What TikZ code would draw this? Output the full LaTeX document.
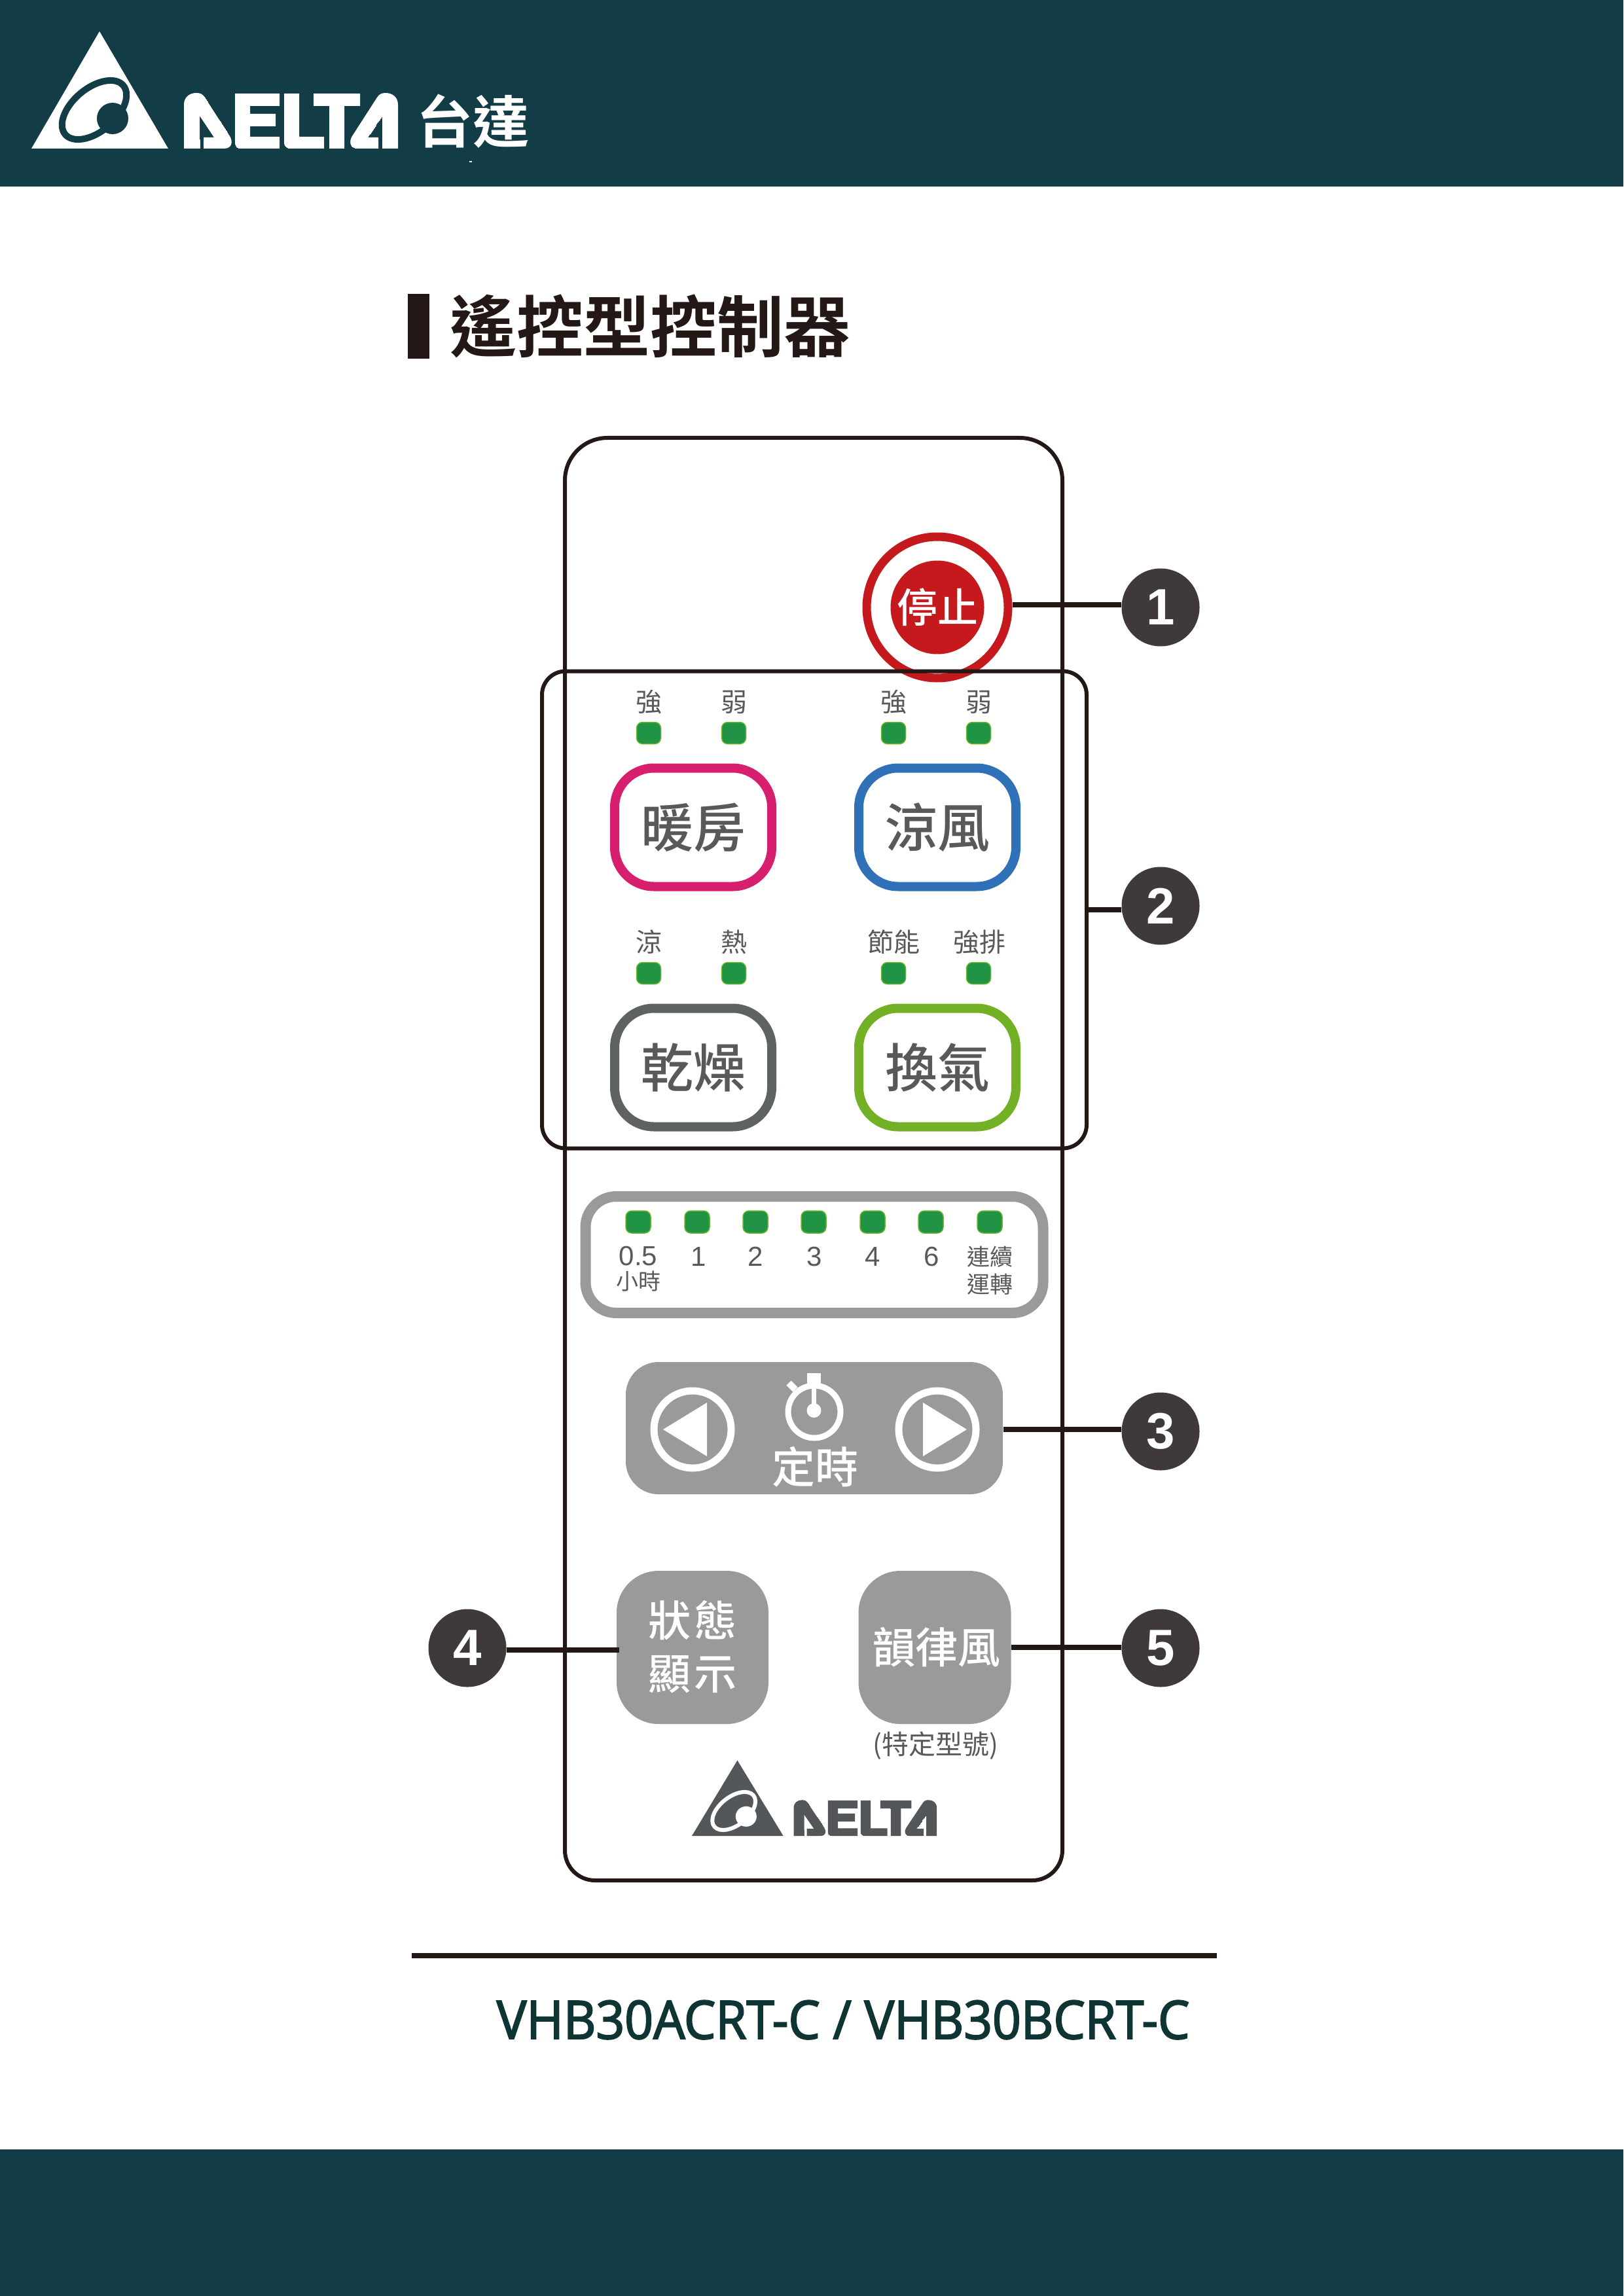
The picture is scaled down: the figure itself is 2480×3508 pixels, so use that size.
\documentclass[tikz,border=0pt]{standalone}
\usepackage{fontspec}
\setmainfont{Liberation Sans}
\newfontfamily\cjk{Noto Sans CJK TC}
\newfontfamily\cjkm{Noto Sans CJK TC Medium}
\newfontfamily\cjkb{Noto Sans CJK TC Bold}
\newfontfamily\modelfont{Open Sans}[FakeStretch=0.945,FakeBold=2.5]
\newdimen\pxu \pxu=0.24pt
\newcommand\fs[1]{\pgfmathsetmacro\fsv{#1*0.24}\fontsize{\fsv pt}{\fsv pt}\selectfont}
\definecolor{teal}{HTML}{123C46}
\definecolor{ink}{HTML}{231815}
\definecolor{badge}{HTML}{40393A}
\definecolor{panelgrey}{HTML}{9B9A9B}
\definecolor{labelgrey}{HTML}{58595B}
\definecolor{ledfill}{HTML}{219345}
\definecolor{ledrim}{HTML}{6AB42E}
\definecolor{stopred}{HTML}{C5191D}
\definecolor{modelink}{HTML}{0F3434}
\definecolor{logogrey}{HTML}{54575A}
\tikzset{
  led/.style={rectangle,rounded corners=9*\pxu,fill=ledfill,draw=ledrim,line width=1.5*\pxu,minimum width=37*\pxu,minimum height=33*\pxu,inner sep=0pt},
  ledlabel/.style={inner sep=0pt,text=labelgrey,font=\cjk\fs{40}},
  modebtn/.style={rectangle,rounded corners=60*\pxu,line width=14*\pxu,minimum width=240*\pxu,minimum height=181*\pxu,inner sep=0pt},
  modetext/.style={inner sep=0pt,text=labelgrey,font=\cjkm\fs{80}},
  greybtn/.style={rectangle,rounded corners=64*\pxu,fill=panelgrey,inner sep=0pt},
  whitetext/.style={inner sep=0pt,text=white,font=\cjkm\fs{65}},
  callout/.style={circle,fill=badge,text=white,minimum size=119*\pxu,inner sep=0pt,font=\bfseries\fs{78}},
  conn/.style={draw=ink,line width=7.5*\pxu},
  frameline/.style={draw=ink,line width=6*\pxu},
  timerlabel/.style={inner sep=0pt,text=labelgrey,font=\fs{42}},
  timercjk/.style={inner sep=0pt,text=labelgrey,font=\cjk\fs{35}},
  ringbtn/.style={circle,draw=white,line width=11*\pxu,minimum size=118*\pxu,inner sep=0pt},
}
\def\logoword{
  (281,227) -- (281,160) .. controls (281,148) and (290,142) .. (300,142) .. controls (306,142) and (310,144) .. (313,149) -- (351,208) .. controls (356,216) and (355,227) .. (342,227) -- (311,227) -- (311,210) -- (327,210) -- (305,177) -- (305,227) -- cycle
  (359,143) -- (427,143) -- (427,162) -- (382,162) -- (382,174) -- (421,174) -- (421,193) -- (382,193) -- (382,209) -- (427,209) -- (427,227) -- (368,227) .. controls (362,227) and (359,223) .. (359,218) -- cycle
  (434,143) -- (457,143) -- (457,209) -- (495,209) -- (495,227) -- (444,227) .. controls (438,227) and (434,223) .. (434,218) -- cycle
  (479,143) -- (550,143) -- (550,162) -- (526,162) -- (526,227) -- (503,227) -- (503,162) -- (479,162) -- cycle
  (608,227) -- (608,160) .. controls (608,148) and (599,142) .. (589,142) .. controls (583,142) and (579,144) .. (576,149) -- (538,208) .. controls (533,216) and (534,227) .. (547,227) -- (578,227) -- (578,210) -- (562,210) -- (584,177) -- (584,227) -- cycle
}
\newcommand\deltamark[3]{%
  \fill[#1] (152,48) -- (48,227) -- (257,227) -- cycle;
  \draw[#2,line width=#3*\pxu,rotate around={40:(144,168)}] (144,168) ellipse (58 and 33);
  \fill[#2] (172,181) circle (24);
  \fill[#1] \logoword;
  \begin{scope}
    \clip \logoword;
    \node[inner sep=0pt,text=#1] at (444,185) {\resizebox{78.2pt}{20.4pt}{\bfseries DELTA}};
  \end{scope}
}
\begin{document}
\begin{tikzpicture}[x=0.24pt,y=-0.24pt]
\useasboundingbox (0,0) rectangle (2480,3508);
\fill[white] (0,0) rectangle (2480,3508);
% bands
\fill[teal] (0,0) rectangle (2480,285);
\fill[teal] (0,3284) rectangle (2480,3508);
\deltamark{white}{teal}{10}
\node[inner sep=0pt,text=white,font=\cjkb\fs{86}] (brand) at (722,185) {台達};
\fill[white] (717,246) rectangle (721,248);
% title
\fill[ink] (623,449) rectangle (656,548);
\node[inner sep=0pt,text=ink,font=\cjkb\fs{102}] (title) at (993,498) {遙控型控制器};
% remote body
\draw[frameline] (863,1400) [rounded corners=65*\pxu] -- (863,669) -- (1623,669) -- (1623,1400) [rounded corners=46*\pxu] -- (1623,2873) -- (863,2873) -- cycle;
% stop
\node[circle,draw=stopred,line width=13*\pxu,minimum size=216*\pxu,inner sep=0pt] (stopring) at (1432,928) {};
\node[circle,fill=stopred,minimum size=143*\pxu,inner sep=0pt,text=white,font=\cjkm\fs{62}] (stopbtn) at (1432,928) {停止};
% group frame
\node[rectangle,frameline,rounded corners=36*\pxu,minimum width=832*\pxu,minimum height=729*\pxu,inner sep=0pt] (group) at (1244,1390) {};
% LEDs of the mode keys
\foreach \n/\x/\y in {a/991/1120,b/1121/1120,c/1365/1120,d/1495/1120,e/991/1487,f/1121/1487,g/1365/1487,h/1495/1487}
  \node[led] (led\n) at (\x,\y) {};
\node[ledlabel] at (991,1073) {強};
\node[ledlabel] at (1121,1073) {弱};
\node[ledlabel] at (1365,1073) {強};
\node[ledlabel] at (1495,1073) {弱};
\node[ledlabel] at (991,1439) {涼};
\node[ledlabel] at (1121,1439) {熱};
\node[ledlabel] at (1365,1439) {節能};
\node[ledlabel] at (1496,1439) {強排};
% mode keys
\node[modebtn,draw={rgb,255:red,216;green,30;blue,110}] (heat) at (1059,1264) {};
\node[modebtn,draw={rgb,255:red,47;green,112;blue,183}] (cool) at (1432,1264) {};
\node[modebtn,draw={rgb,255:red,95;green,98;blue,98}] (dry) at (1059,1631) {};
\node[modebtn,draw={rgb,255:red,114;green,176;blue,38}] (vent) at (1432,1631) {};
\node[modetext] at (heat) {暖房};
\node[modetext] at (cool) {涼風};
\node[modetext] at (dry) {乾燥};
\node[modetext] at (vent) {換氣};
% timer display
\node[rectangle,draw=panelgrey,line width=16*\pxu,rounded corners=47*\pxu,minimum width=699*\pxu,minimum height=178*\pxu,inner sep=0pt] (display) at (1244,1917) {};
\foreach \n/\x in {a/975,b/1065,c/1154,d/1243,e/1333,f/1422,g/1512}
  \node[led,minimum width=38*\pxu,minimum height=34*\pxu] (tled\n) at (\x,1867) {};
\node[timerlabel] at (975,1919) {0.5};
\node[timercjk,font=\cjk\fs{34}] at (975,1958) {小時};
\node[timerlabel] at (1067,1920) {1};
\node[timerlabel] at (1154,1920) {2};
\node[timerlabel] at (1244,1920) {3};
\node[timerlabel] at (1333,1920) {4};
\node[timerlabel] at (1423,1920) {6};
\node[timercjk] at (1512,1920) {連續};
\node[timercjk] at (1512,1962) {運轉};
% timer key
\node[greybtn,rounded corners=50*\pxu,minimum width=576*\pxu,minimum height=202*\pxu] (timer) at (1244,2182) {};
\node[ringbtn] (prev) at (1058,2184) {};
\node[ringbtn] (next) at (1432,2184) {};
\fill[white] (1013,2184) -- (1080,2143) -- (1080,2225) -- cycle;
\fill[white] (1477,2184) -- (1410,2143) -- (1410,2225) -- cycle;
\node[circle,draw=white,line width=9*\pxu,minimum size=80*\pxu,inner sep=0pt] (watch) at (1244,2157) {};
\fill[white] (1233,2098) rectangle (1254,2116);
\fill[white,rotate around={45:(1210,2118)}] (1205,2111) rectangle (1215,2125);
\fill[white] (1240,2120) rectangle (1247,2150);
\fill[white] (1243.5,2155) circle (11);
\node[whitetext,font=\cjkm\fs{66}] (timertext) at (1245,2241) {定時};
% status and rhythm keys
\node[greybtn,minimum width=232*\pxu,minimum height=234*\pxu] (status) at (1058,2517) {};
\node[greybtn,minimum width=233*\pxu,minimum height=234*\pxu] (rhythm) at (1428,2517) {};
\node[whitetext] at (1058,2476) {狀\hspace{1.2pt}態};
\node[whitetext] at (1058,2558) {顯\hspace{1.2pt}示};
\node[whitetext] at (1431,2517) {韻律風};
\node[inner sep=0pt,text=labelgrey,font=\cjk\fs{41}] (only) at (1429,2667) {(特定型號)};
% small logo
\begin{scope}[shift={(1057,2805)},xscale=.668,yscale=.645,shift={(-48,-227)},transform shape]
  \deltamark{logogrey}{white}{6}
\end{scope}
% rule and model
\draw[conn] (629,2988) -- (1859,2988);
\node[inner sep=0pt,anchor=base,text=modelink,font=\modelfont\fs{81}] (model) at (1288,3115) {VHB30ACRT-C / VHB30BCRT-C};
% callouts
\node[callout] (n1) at (1773,928) {1};
\node[callout] (n2) at (1773,1384) {2};
\node[callout] (n3) at (1773,2187) {3};
\node[callout] (n4) at (714,2518) {4};
\node[callout] (n5) at (1773,2518) {5};
\draw[conn] (stopring.east |- 0,924) -- (n1.west |- 0,924);
\draw[conn] (group.east |- 0,1390) -- (n2.west |- 0,1390);
\draw[conn] (timer.east |- 0,2184) -- (n3.west |- 0,2184);
\draw[conn] (n4.east |- 0,2521) -- ([xshift=5*\pxu]status.west |- 0,2521);
\draw[conn] (rhythm.east |- 0,2517) -- (n5.west |- 0,2517);
\end{tikzpicture}
\end{document}
